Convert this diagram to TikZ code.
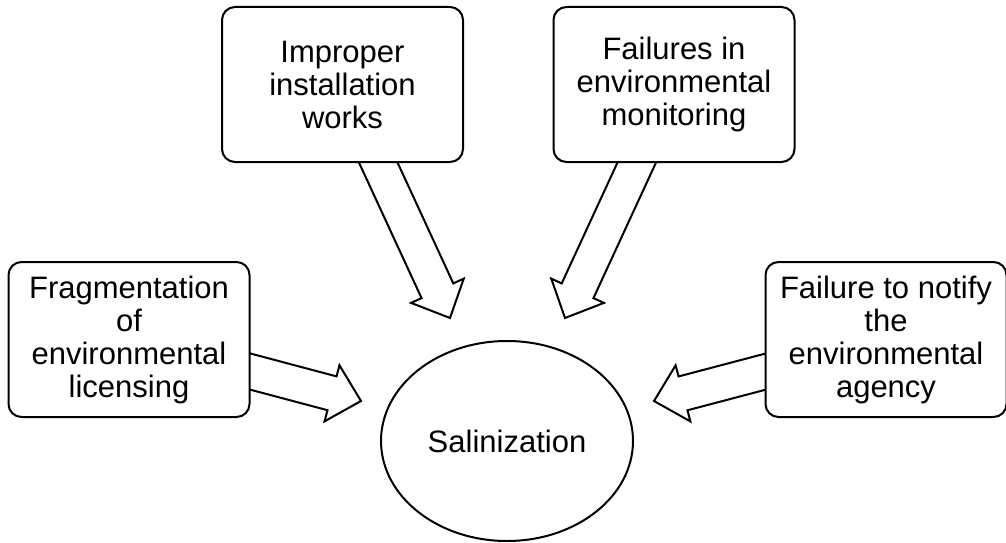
\documentclass[tikz,border=0pt]{standalone}
\usepackage{fontspec}
\setmainfont{Liberation Sans}
\usetikzlibrary{calc,shapes.geometric}

% block arrow from a point on a box border (#1) to its tip (#2)
\newcommand\fatarrow[2]{%
  \coordinate (fa-s) at ($(#1)!-40pt!(#2)$);
  \coordinate (fa-m) at ($(#2)!30pt!(#1)$);
  \draw[blockarrow]
    ($(fa-s)!17.5pt!90:(#2)$) -- ($(fa-m)!17.5pt!90:(#2)$) --
    ($(fa-m)!29pt!90:(#2)$) -- (#2) -- ($(fa-m)!29pt!-90:(#2)$) --
    ($(fa-m)!17.5pt!-90:(#2)$) -- ($(fa-s)!17.5pt!-90:(#2)$) -- cycle;}

\tikzset{
  cause/.style={draw, line width=2pt, fill=white, rounded corners=13pt,
    minimum width=241pt, minimum height=155pt, align=center, inner sep=2pt,
    font=\fontsize{31pt}{33pt}\selectfont},
  effect/.style={draw, line width=2pt, fill=white, ellipse, inner sep=0pt,
    minimum width=252pt, minimum height=200pt,
    font=\fontsize{31pt}{33pt}\selectfont},
  blockarrow/.style={draw, line width=2pt, fill=white, line join=miter},
}

\begin{document}
\begin{tikzpicture}[x=1pt, y=-1pt]
  \useasboundingbox (0,0) rectangle (1006,543);

  % anchor points of the four arrows
  \coordinate (sal-c) at (507,441);
  \coordinate (t1) at ($(sal-c)+(-57,-123)$);
  \coordinate (t2) at ($(sal-c)+(58,-123)$);
  \coordinate (t3) at ($(sal-c)+(-146,-40)$);
  \coordinate (t4) at ($(sal-c)+(147,-40)$);
  \coordinate (s1) at (378,162);
  \coordinate (s2) at (637,162);
  \coordinate (s3) at (250,371.5);
  \coordinate (s4) at (766,371.5);

  \fatarrow{s1}{t1}
  \fatarrow{s2}{t2}
  \fatarrow{s3}{t3}
  \fatarrow{s4}{t4}

  \node[cause] (frag) at (129,339.5) {Fragmentation\\of\\environmental\\licensing};
  \node[cause] (inst) at (342.5,84.5) {Improper\\installation\\works};
  \node[cause] (moni) at (674,84.5) {Failures in\\environmental\\monitoring};
  \node[cause] (noti) at (886,339.5) {Failure to notify\\the\\environmental\\agency};
  \node[effect] (sal) at (sal-c) {Salinization};
\end{tikzpicture}
\end{document}
